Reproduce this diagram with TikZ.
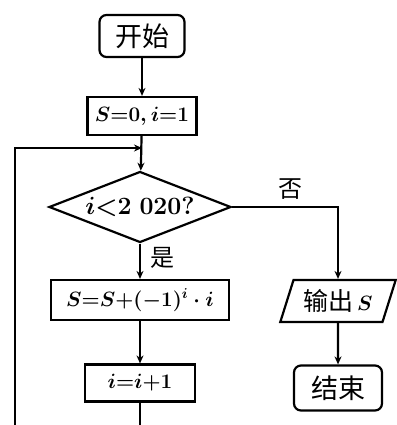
\documentclass[tikz,border=0pt]{standalone}
\usepackage{fontspec}
\newfontfamily\cjk{Noto Sans CJK SC}
\usetikzlibrary{shapes.geometric,arrows.meta}
\begin{document}
\begin{tikzpicture}[x=1pt,y=-1pt,
  line width=2.2pt,
  every node/.style={font=\fontsize{22}{25}\selectfont\boldmath, inner sep=0pt},
  zh/.style={font=\fontsize{27}{30}\selectfont\cjk},
  term/.style={draw, rounded corners=7pt, inner sep=0pt},
  proc/.style={draw, inner sep=0pt},
  dec/.style={draw, diamond, inner sep=0pt, minimum width=182pt, minimum height=71pt},
  io/.style={draw, trapezium, trapezium left angle=66, trapezium right angle=114, trapezium stretches=true, inner sep=0pt},
  arr/.style={-{Stealth[length=8pt,width=7pt]}}
]
\useasboundingbox (0,0) rectangle (396,425);
\node[term, zh, minimum width=85pt, minimum height=42pt] (start) at (142,36) {开始};
\node[proc, minimum width=109pt, minimum height=38pt] (init) at (142,116) {$S{=}0,i{=}1$};
\node[dec, label={[font=\fontsize{24.5}{27}\selectfont\boldmath]center:$i{<}2\;020?$}] (cond) at (140,207) {};
\node[proc, minimum width=178pt, minimum height=40pt] (upd) at (140,300) {$S{=}S{+}(-1)^{i}\cdot i$};
\node[proc, minimum width=110pt, minimum height=37pt] (inc) at (140,383) {$i{=}i{+}1$};
\node[io, minimum width=116pt, minimum height=42pt] (out) at (338,301) {{\cjk\fontsize{25}{28}\selectfont 输出}\,$S$};
\node[term, zh, minimum width=88pt, minimum height=45pt] (end) at (338,388) {结束};
\coordinate (merge) at (142,148);
\coordinate (bot) at (140,445);
\coordinate (botL) at (15,445);
\coordinate (turn) at (338,207);
\node[zh, font=\fontsize{24}{26}\selectfont\cjk] (no) at (290,189) {否};
\node[zh, font=\fontsize{24}{26}\selectfont\cjk] (yes) at (162,258) {是};
\draw[arr] (start) -- (init);
\draw[arr] (init) -- (cond);
\draw[arr] (cond) -- (upd);
\draw[arr] (upd) -- (inc);
\draw (inc) -- (bot) -- (botL) |- (merge);
\draw[arr] (botL |- merge) -- (merge);
\draw[arr] (cond.east) -- (turn) -- (out);
\draw[arr] (out) -- (end);
\end{tikzpicture}
\end{document}
